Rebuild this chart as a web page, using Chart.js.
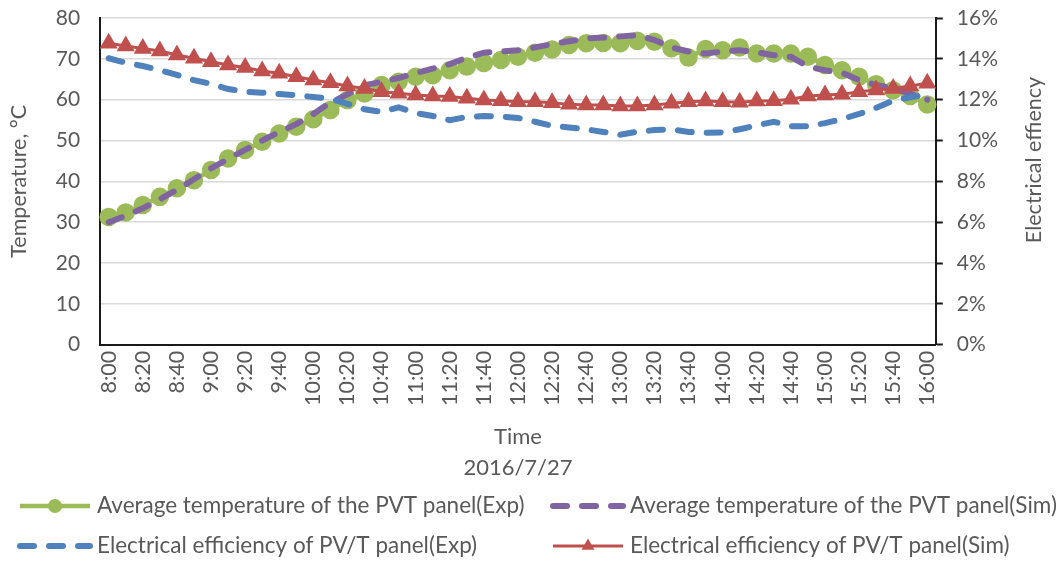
<!DOCTYPE html>
<html>
<head>
<meta charset="utf-8">
<script src="https://cdn.jsdelivr.net/npm/chart.js@4"></script>
<style>
  html, body { margin: 0; padding: 0; background: #fff; }
  #wrap { width: 1058px; height: 563px; position: relative; }
</style>
</head>
<body>
<div id="wrap"><canvas id="grafico"></canvas></div>
<script>
// horarios (a cada 10 min), rotulo mostrado so a cada 20 min
const HORAS = ['8:00', '8:10', '8:20', '8:30', '8:40', '8:50', '9:00', '9:10', '9:20', '9:30', '9:40', '9:50',
  '10:00', '10:10', '10:20', '10:30', '10:40', '10:50', '11:00', '11:10', '11:20', '11:30', '11:40', '11:50',
  '12:00', '12:10', '12:20', '12:30', '12:40', '12:50', '13:00', '13:10', '13:20', '13:30', '13:40', '13:50',
  '14:00', '14:10', '14:20', '14:30', '14:40', '14:50', '15:00', '15:10', '15:20', '15:30', '15:40', '15:50', '16:00'];

// temperatura media do painel (C)
const TEMP_EXP = [31.3, 32.4, 34.2, 36.2, 38.3, 40.3, 42.8, 45.6, 47.7, 49.7, 51.7, 53.4,
  55.2, 57.5, 59.9, 61.5, 63.6, 64.4, 65.6, 66.0, 67.2, 68.1, 69.0, 69.7,
  70.5, 71.5, 72.3, 73.4, 73.8, 73.9, 73.8, 74.4, 74.2, 72.6, 70.3, 72.4,
  72.1, 72.8, 71.3, 71.3, 71.3, 70.5, 68.5, 67.2, 65.6, 63.8, 62.3, 60.9, 58.8];
const TEMP_SIM = [30.0, 31.6, 33.4, 35.6, 37.9, 40.5, 43.2, 45.5, 47.7, 50.0, 52.1, 54.0,
  56.5, 59.3, 61.3, 63.5, 64.4, 65.3, 66.5, 67.6, 68.7, 70.3, 71.5, 71.8,
  72.1, 72.8, 73.6, 74.3, 75.0, 75.2, 75.5, 75.8, 74.6, 72.8, 71.8, 71.3,
  71.8, 72.1, 71.6, 70.9, 70.5, 68.1, 67.2, 66.6, 64.8, 63.6, 62.8, 61.5, 60.0];

// eficiencia eletrica (%)
const EFIC_EXP = [14.03, 13.81, 13.65, 13.45, 13.21, 12.96, 12.77, 12.52, 12.39, 12.34, 12.28, 12.22,
  12.13, 12.05, 11.80, 11.53, 11.40, 11.62, 11.35, 11.20, 11.00, 11.15, 11.20, 11.18,
  11.10, 10.92, 10.72, 10.64, 10.55, 10.42, 10.28, 10.43, 10.51, 10.55, 10.42, 10.38,
  10.40, 10.55, 10.74, 10.92, 10.70, 10.70, 10.85, 11.05, 11.30, 11.60, 11.95, 12.12, 12.25];
const EFIC_SIM = [14.76, 14.63, 14.51, 14.38, 14.19, 14.03, 13.86, 13.70, 13.58, 13.40, 13.29, 13.12,
  12.96, 12.83, 12.67, 12.55, 12.39, 12.31, 12.23, 12.18, 12.15, 12.07, 11.98, 11.95,
  11.90, 11.90, 11.85, 11.77, 11.74, 11.74, 11.69, 11.69, 11.74, 11.82, 11.90, 11.93,
  11.90, 11.88, 11.93, 11.95, 12.02, 12.18, 12.23, 12.26, 12.39, 12.47, 12.55, 12.67, 12.80];

const FONTE = 'Lato, "Open Sans", sans-serif';
const COR_TEXTO = '#595959';
const COR_EIXO = '#1a1a1a';

// o padding dos ticks somava no topo da area do grafico; fixa o respiro aqui
function ajustaPadding(scale) {
  scale.paddingTop = 18;
  scale.paddingBottom = 10;
}

// legenda em 2 colunas abaixo do grafico + titulo do eixo direito (lido de baixo p/ cima)
const extras = {
  id: 'extras',
  afterDraw(chart) {
    const ctx = chart.ctx;
    const colX = [20, 553], linhaY = [506, 546];
    chart.data.datasets.forEach((ds, i) => {
      const x0 = colX[i % 2], y = linhaY[Math.floor(i / 2)];
      ctx.save();
      ctx.strokeStyle = ds.borderColor;
      ctx.lineWidth = ds.borderWidth;
      ctx.lineCap = ds.borderCapStyle || 'butt';
      ctx.setLineDash(ds.borderDash || []);
      ctx.beginPath(); ctx.moveTo(x0, y); ctx.lineTo(x0 + 70, y); ctx.stroke();
      ctx.setLineDash([]);
      ctx.fillStyle = ds.borderColor;
      const cx = x0 + 35, r = ds.pointRadius || 0;
      if (r && ds.pointStyle === 'circle') {
        ctx.beginPath(); ctx.arc(cx, y, r, 0, Math.PI * 2); ctx.fill();
      } else if (r && ds.pointStyle === 'triangle') {
        ctx.beginPath();
        for (let k = 0; k < 3; k++) {
          const a = -Math.PI / 2 + k * 2 * Math.PI / 3;
          ctx[k ? 'lineTo' : 'moveTo'](cx + r * Math.cos(a), y + r * Math.sin(a));
        }
        ctx.closePath(); ctx.fill();
      }
      ctx.fillStyle = COR_TEXTO;
      ctx.font = `22.5px ${FONTE}`;
      ctx.textBaseline = 'middle';
      ctx.fillText(ds.label, x0 + 77, y);
      ctx.restore();
    });
    ctx.save();
    ctx.translate(1034, 160);
    ctx.rotate(-Math.PI / 2);
    ctx.fillStyle = COR_TEXTO;
    ctx.font = `21.5px ${FONTE}`;
    ctx.textAlign = 'center';
    ctx.textBaseline = 'middle';
    ctx.fillText('Electrical effiency', 0, 0);
    ctx.restore();
  }
};

new Chart(document.getElementById('grafico').getContext('2d'), {
  type: 'line',
  data: {
    labels: HORAS,
    datasets: [{
      label: 'Average temperature of the PVT panel(Exp)',
      data: TEMP_EXP, yAxisID: 'y', order: 4,
      borderColor: '#9BBB59', backgroundColor: '#9BBB59', borderWidth: 4.5,
      pointStyle: 'circle', pointRadius: 7, pointBackgroundColor: '#9BBB59', pointBorderColor: '#9BBB59',
      tension: 0
    }, {
      label: 'Average temperature of the PVT panel(Sim)',
      data: TEMP_SIM, yAxisID: 'y', order: 3,
      borderColor: '#8064A2', backgroundColor: '#8064A2', borderWidth: 6,
      borderDash: [14, 15], borderCapStyle: 'round', pointRadius: 0, tension: 0
    }, {
      label: 'Electrical efficiency of PV/T panel(Exp)',
      data: EFIC_EXP, yAxisID: 'y1', order: 2,
      borderColor: '#4F81BD', backgroundColor: '#4F81BD', borderWidth: 6,
      borderDash: [14, 15], borderCapStyle: 'round', pointRadius: 0, tension: 0
    }, {
      label: 'Electrical efficiency of PV/T panel(Sim)',
      data: EFIC_SIM, yAxisID: 'y1', order: 1,
      borderColor: '#C0504D', backgroundColor: '#C0504D', borderWidth: 3,
      pointStyle: 'triangle', pointRadius: 7.5, pointBackgroundColor: '#C0504D', pointBorderColor: '#C0504D',
      tension: 0
    }]
  },
  options: {
    responsive: true, maintainAspectRatio: false, animation: false,
    layout: { padding: { left: 6, right: 46, top: 0, bottom: 80 } },
    plugins: { legend: { display: false }, tooltip: { enabled: false } },
    scales: {
      x: {
        offset: true,
        grid: { display: false, drawTicks: false },
        border: { display: true, color: COR_EIXO, width: 2 },
        ticks: {
          autoSkip: false, maxRotation: 90, minRotation: 90, padding: 6,
          color: COR_TEXTO, font: { family: FONTE, size: 21.5 },
          callback: (v, i) => (i % 2 === 0 ? HORAS[i] : null)
        },
        title: {
          display: true, text: ['Time', '2016/7/27'], color: COR_TEXTO,
          font: { family: FONTE, size: 22, lineHeight: 1.41 }, padding: { top: 9, bottom: 0 }
        }
      },
      y: {
        position: 'left', min: 0, max: 80,
        afterFit: ajustaPadding,
        grid: { color: '#d9d9d9', lineWidth: 1.5, drawTicks: false },
        border: { display: true, color: COR_EIXO, width: 2 },
        ticks: { stepSize: 10, padding: 20, color: COR_TEXTO, font: { family: FONTE, size: 21 } },
        title: {
          display: true, text: 'Temperature, °C', color: COR_TEXTO,
          font: { family: FONTE, size: 21.5 }, padding: { top: 0, bottom: 4 }
        }
      },
      y1: {
        position: 'right', min: 0, max: 16,
        afterFit: ajustaPadding,
        grid: { drawOnChartArea: false, drawTicks: true, tickLength: 7, tickColor: COR_EIXO, tickWidth: 2 },
        border: { display: true, color: COR_EIXO, width: 2 },
        ticks: {
          stepSize: 2, padding: 14, color: COR_TEXTO, font: { family: FONTE, size: 21 },
          callback: v => v + '%'
        }
      }
    }
  },
  plugins: [extras]
});
</script>
</body>
</html>
